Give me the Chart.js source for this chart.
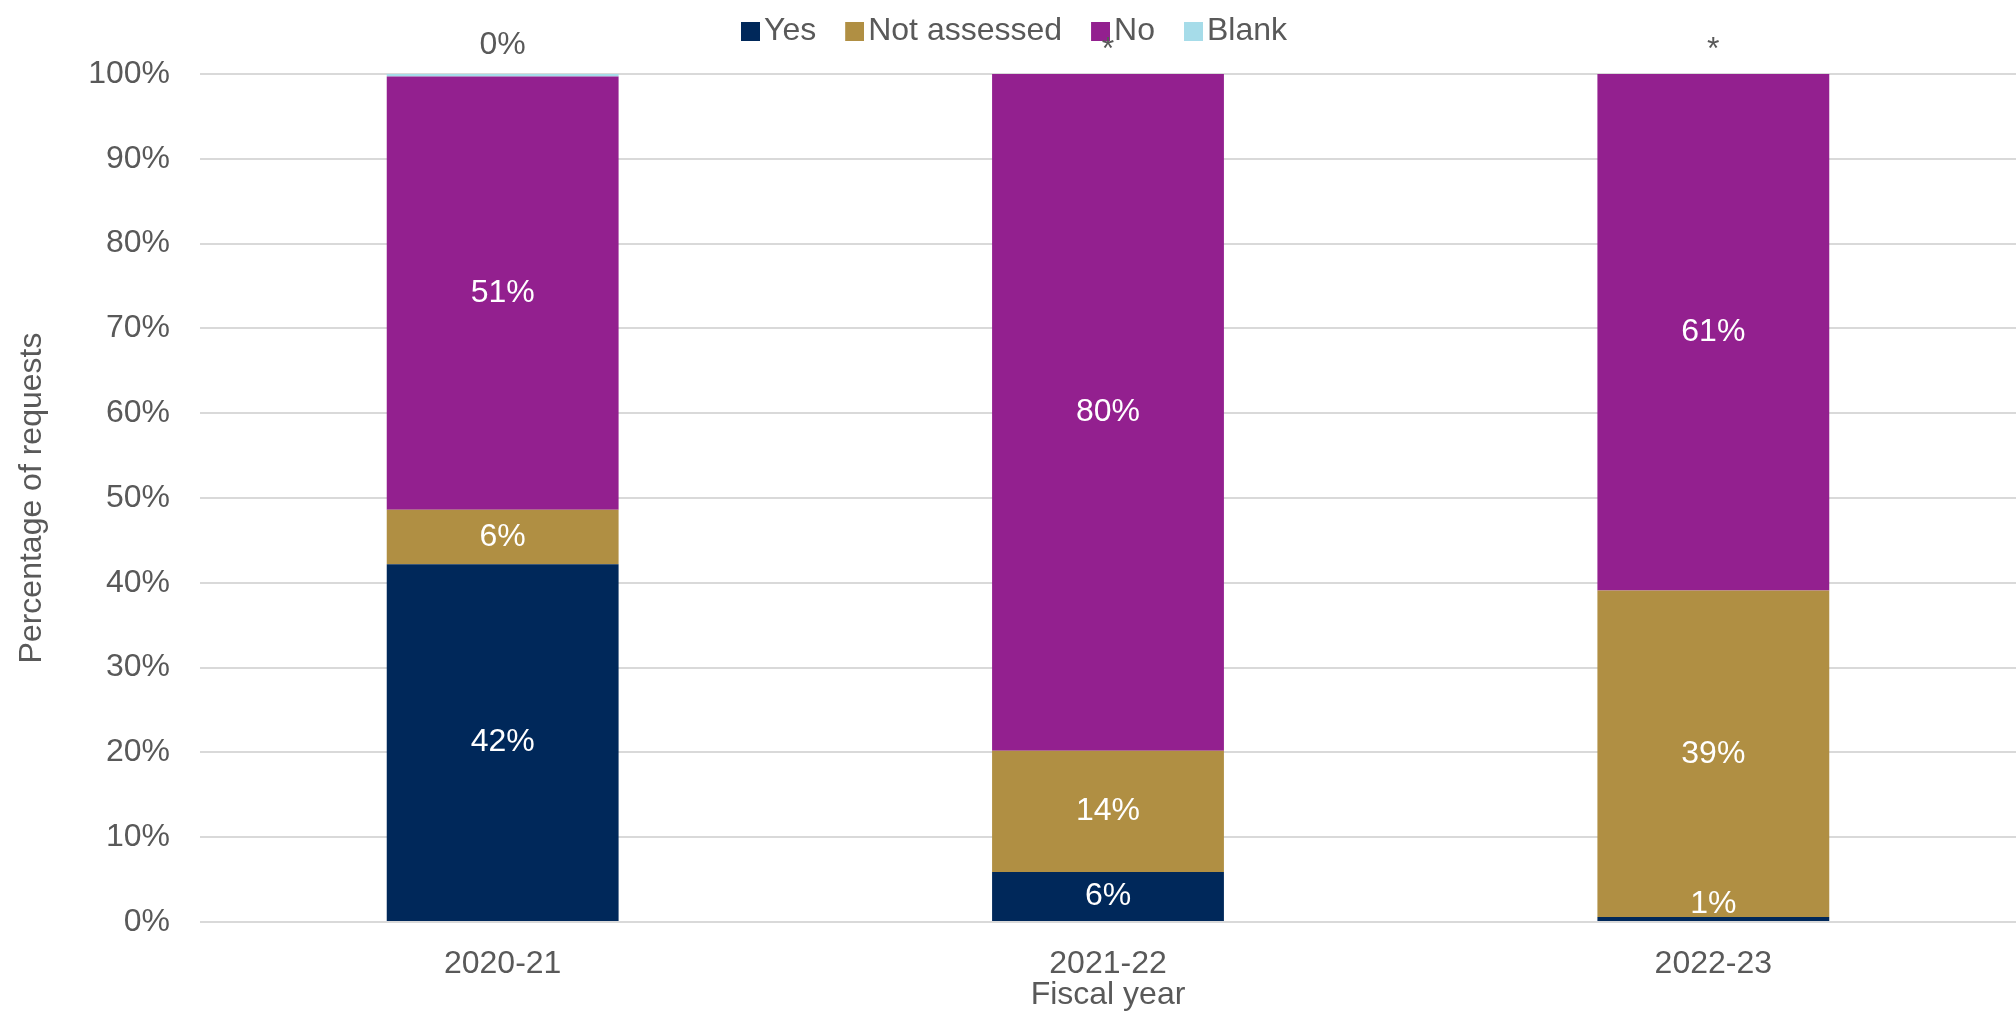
<!DOCTYPE html>
<html lang="en">
<head>
    <meta charset="UTF-8">
    <title>Percentage of requests by fiscal year</title>
    <script src="https://cdn.jsdelivr.net/npm/chart.js"></script>
    <style>
        body { margin: 0; background: #fff; }
        #wrap { width: 2016px; height: 1023px; }
    </style>
</head>
<body>
    <div id="wrap"><canvas id="requestsChart"></canvas></div>

    <script>
        const years = ['2020-21', '2021-22', '2022-23'];
        const yesValues = [42.2, 5.9, 0.6];
        const notAssessedValues = [6.4, 14.3, 38.5];
        const noValues = [51.1, 79.8, 60.9];
        const blankValues = [0.3, 0, 0];
        const blankLabels = ['0%', '*', '*'];
        const yTicks = [0, 10, 20, 30, 40, 50, 60, 70, 80, 90, 100];

        Chart.defaults.font.family = "'Liberation Sans', Arial, sans-serif";
        Chart.defaults.font.size = 32;
        Chart.defaults.color = '#595959';

        // legend marker: small square sitting close to its text
        function legendSquare(color) {
            const c = document.createElement('canvas');
            c.width = 43;
            c.height = 19;
            const g = c.getContext('2d');
            g.fillStyle = color;
            g.fillRect(24, 0, 19, 19);
            return c;
        }

        // value labels: white inside segments, grey on top for Blank
        const segmentLabels = {
            id: 'segmentLabels',
            afterDatasetsDraw(chart) {
                const ctx = chart.ctx;
                ctx.save();
                ctx.font = "32px 'Liberation Sans', Arial, sans-serif";
                ctx.textAlign = 'center';
                ctx.textBaseline = 'middle';
                chart.data.datasets.forEach((ds, i) => {
                    const meta = chart.getDatasetMeta(i);
                    meta.data.forEach((bar, j) => {
                        if (ds.label === 'Blank') {
                            const lab = blankLabels[j];
                            ctx.fillStyle = '#595959';
                            ctx.fillText(lab, bar.x, Math.min(bar.y, bar.base) - (lab === '*' ? 24 : 29));
                            return;
                        }
                        let cy = (bar.y + bar.base) / 2;
                        const txt = Math.round(ds.data[j]) + '%';
                        ctx.fillStyle = '#ffffff';
                        if (cy > bar.base - 17) {
                            cy = bar.base - 17;
                            ctx.save();
                            ctx.beginPath();
                            ctx.rect(bar.x - 100, 0, 200, bar.y);
                            ctx.clip();
                            ctx.fillText(txt, bar.x, cy);
                            ctx.restore();
                        } else {
                            ctx.fillText(txt, bar.x, cy);
                        }
                    });
                });
                ctx.restore();
            }
        };

        // extra space under the legend
        const legendGap = {
            id: 'legendGap',
            beforeInit(chart) {
                const fit = chart.legend.fit;
                chart.legend.fit = function () {
                    fit.bind(chart.legend)();
                    this.height += 17;
                };
            }
        };

        new Chart(document.getElementById('requestsChart'), {
            type: 'bar',
            data: {
                labels: years,
                datasets: [
                    { label: 'Yes', data: yesValues, backgroundColor: '#00285A', pointStyle: legendSquare('#00285A') },
                    { label: 'Not assessed', data: notAssessedValues, backgroundColor: '#B08F43', pointStyle: legendSquare('#B08F43') },
                    { label: 'No', data: noValues, backgroundColor: '#93208F', pointStyle: legendSquare('#93208F') },
                    { label: 'Blank', data: blankValues, backgroundColor: '#A6DCE9', pointStyle: legendSquare('#A6DCE9') }
                ]
            },
            options: {
                responsive: true,
                maintainAspectRatio: false,
                animation: false,
                layout: { padding: { top: -2 } },
                datasets: {
                    bar: { barPercentage: 0.383, categoryPercentage: 1, borderWidth: 0 }
                },
                plugins: {
                    tooltip: { enabled: false },
                    legend: {
                        position: 'top',
                        labels: {
                            usePointStyle: true,
                            boxWidth: 19,
                            boxHeight: 19,
                            padding: 17,
                            color: '#595959',
                            font: { size: 32 }
                        }
                    }
                },
                scales: {
                    x: {
                        stacked: true,
                        grid: { display: false },
                        border: { display: false },
                        ticks: { padding: 15, color: '#595959' },
                        title: {
                            display: true,
                            text: 'Fiscal year',
                            color: '#595959',
                            padding: { top: 0, bottom: 9 }
                        },
                        afterFit(scale) { scale.height = 101; }
                    },
                    y: {
                        stacked: true,
                        min: 0,
                        max: 100,
                        afterBuildTicks(scale) {
                            scale.ticks = yTicks.map(v => ({ value: v }));
                        },
                        grid: { color: '#D9D9D9', lineWidth: 2, drawTicks: false },
                        border: { display: false },
                        ticks: {
                            padding: 30,
                            color: '#595959',
                            callback: v => v + '%'
                        },
                        title: {
                            display: true,
                            text: 'Percentage of requests',
                            color: '#595959',
                            padding: { top: 13, bottom: 0 }
                        },
                        afterFit(scale) { scale.width = 200; }
                    }
                }
            },
            plugins: [segmentLabels, legendGap]
        });
    </script>
</body>
</html>
